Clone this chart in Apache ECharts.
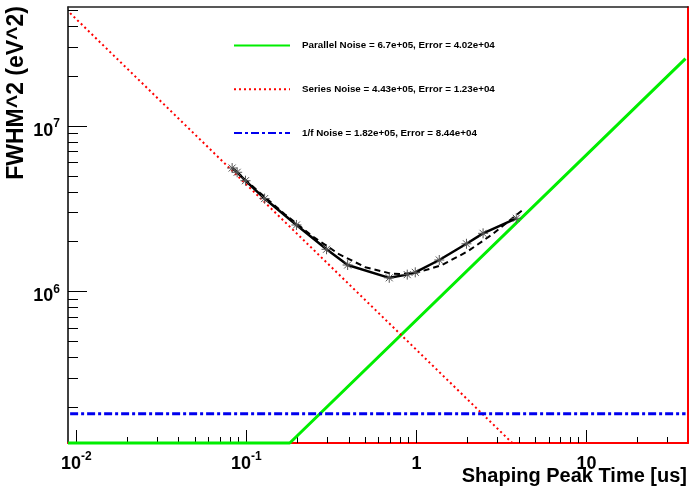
<!DOCTYPE html>
<html><head><meta charset="utf-8">
<script src="https://cdn.jsdelivr.net/npm/echarts@6.0.0/dist/echarts.min.js"></script>
<style>html,body{margin:0;padding:0;background:#fff}#c{width:690px;height:489px}</style>
</head><body><div id="c"></div>
<script>
// ---- data ----
const shapingTime = [0.0825, 0.0883, 0.0988, 0.128, 0.197, 0.296, 0.394, 0.692, 0.883, 0.984, 1.362, 1.968, 2.465, 3.865];
const fwhm2 = [5.57e6, 5.25e6, 4.67e6, 3.64e6, 2.52e6, 1.796e6, 1.443e6, 1.207e6, 1.262e6, 1.303e6, 1.547e6, 1.939e6, 2.243e6, 2.765e6];

const totalFitTime = [0.088, 0.09, 0.12, 0.17, 0.25, 0.35, 0.5, 0.7, 0.8, 1.0, 1.4, 2.0, 2.8, 4.2];
const totalFitVal = [5.27e6, 5.16e6, 3.95e6, 2.90e6, 2.12e6, 1.68e6, 1.40e6, 1.284e6, 1.272e6, 1.295e6, 1.436e6, 1.744e6, 2.216e6, 3.10e6];

const parallelTime = [0.00894, 0.18, 38.2];
const parallelVal = [1.209e5, 1.209e5, 2.56e7];
const seriesNoiseTime = [0.0092, 3.66, 39.3];
const seriesNoiseVal = [4.82e7, 1.209e5, 1.209e5];
const oneOverFTime = [0.0092, 38.2];
const oneOverFVal = [1.82e5, 1.82e5];

const noiseNames = ['Parallel Noise', 'Series Noise', '1/f Noise'];
const noiseValues = ['6.7e+05', '4.43e+05', '1.82e+05'];
const noiseErrors = ['4.02e+04', '1.23e+04', '8.44e+04'];

const xMajorTicks = [0.01, 0.1, 1, 10];
const xMinorTicks = [0.02,0.03,0.04,0.05,0.06,0.07,0.08,0.09, 0.2,0.3,0.4,0.5,0.6,0.7,0.8,0.9, 2,3,4,5,6,7,8,9, 20,30];
const yMajorTicks = [1e6, 1e7];
const yMinorTicks = [2e5,3e5,4e5,5e5,6e5,7e5,8e5,9e5, 2e6,3e6,4e6,5e6,6e6,7e6,8e6,9e6, 2e7,3e7,4e7,5e7];

const X_MIN = 0.00894, X_MAX = 39.5;
const Y_MIN = 1.209e5, Y_MAX = 5.25e7;

const xTitle = 'Shaping Peak Time [us]';
const yTitle = 'FWHM^2 (eV^2)';

// ---- build ----
const zip = (a, b) => a.map((v, i) => [v, b[i]]);
const legendNames = noiseNames.map((n, i) => n + ' = ' + noiseValues[i] + ', Error = ' + noiseErrors[i]);
const FONT = '"Liberation Sans", Arial, Helvetica, sans-serif';

function powLabel(v) {
  const e = Math.round(Math.log10(v));
  if (e === 0) return '{b|1}';
  if (e === 1) return '{b|10}';
  return '{b|10}{s|' + e + '}';
}
const rich = {
  b: { fontFamily: FONT, fontWeight: 'bold', fontSize: 18, lineHeight: 22, verticalAlign: 'bottom', color: '#000' },
  s: { fontFamily: FONT, fontWeight: 'bold', fontSize: 12, lineHeight: 12, verticalAlign: 'top', color: '#000' }
};
const noSplit = { show: false };

const chart = echarts.init(document.getElementById('c'), null, { renderer: 'canvas' });
chart.setOption({
  animation: false,
  backgroundColor: '#fff',
  grid: { left: 68, right: 2, top: 7, bottom: 46, containLabel: false, outerBoundsMode: 'none' },
  legend: {
    left: 228, top: 35, orient: 'vertical', itemWidth: 56, itemHeight: 14, itemGap: 32.5,
    selectedMode: false,
    itemStyle: { color: 'rgba(0,0,0,0)', opacity: 0, borderWidth: 0 },
    textStyle: { fontFamily: FONT, fontWeight: 'bold', fontSize: 9.8, color: '#000', padding: [0, 0, 0, 7] },
    data: legendNames
  },
  xAxis: [
    { type: 'log', min: X_MIN, max: X_MAX, position: 'bottom',
      axisLine: { show: true, lineStyle: { color: '#ff0000', width: 2 } },
      axisTick: { show: true, inside: true, length: 13, customValues: xMajorTicks, lineStyle: { color: '#000', width: 1 } },
      axisLabel: { show: true, customValues: xMajorTicks, formatter: powLabel, rich: rich, margin: 8 },
      splitLine: noSplit, minorTick: { show: false } },
    { type: 'log', min: X_MIN, max: X_MAX, position: 'bottom',
      axisLine: { show: false },
      axisTick: { show: true, inside: true, length: 6, customValues: xMinorTicks, lineStyle: { color: '#000', width: 1 } },
      axisLabel: { show: false }, splitLine: noSplit },
    { type: 'log', min: X_MIN, max: X_MAX, position: 'top',
      axisLine: { show: true, lineStyle: { color: '#222', width: 1.5 } },
      axisTick: { show: false }, axisLabel: { show: false }, splitLine: noSplit }
  ],
  yAxis: [
    { type: 'log', min: Y_MIN, max: Y_MAX, position: 'left',
      axisLine: { show: true, lineStyle: { color: '#000', width: 1.5 } },
      axisTick: { show: true, inside: true, length: 19, customValues: yMajorTicks, lineStyle: { color: '#000', width: 1 } },
      axisLabel: { show: true, customValues: yMajorTicks, formatter: powLabel, rich: rich, margin: 8, padding: [6, 0, 0, 0] },
      splitLine: noSplit },
    { type: 'log', min: Y_MIN, max: Y_MAX, position: 'left',
      axisLine: { show: false },
      axisTick: { show: true, inside: true, length: 10, customValues: yMinorTicks, lineStyle: { color: '#000', width: 1 } },
      axisLabel: { show: false }, splitLine: noSplit },
    { type: 'log', min: Y_MIN, max: Y_MAX, position: 'right',
      axisLine: { show: true, lineStyle: { color: '#ff0000', width: 2 } },
      axisTick: { show: false }, axisLabel: { show: false }, splitLine: noSplit }
  ],
  graphic: [
    { type: 'text', x: 687, y: 476, style: { text: xTitle, font: 'bold 20px ' + FONT, textAlign: 'right', textVerticalAlign: 'middle', fill: '#000' } },
    { type: 'text', x: 17, y: 6, rotation: Math.PI / 2, style: { text: yTitle, font: 'bold 23px ' + FONT, textAlign: 'right', textVerticalAlign: 'middle', fill: '#000' } }
  ],
  series: [
    { name: legendNames[0], type: 'line', data: zip(parallelTime, parallelVal), symbol: 'none', clip: false,
      lineStyle: { color: '#00ee00', width: 3 }, itemStyle: { color: '#00ee00' }, z: 3 },
    { name: legendNames[1], type: 'line', data: zip(seriesNoiseTime, seriesNoiseVal), symbol: 'none', clip: false,
      lineStyle: { color: '#ff0000', width: 2, type: [2, 3] }, itemStyle: { color: '#ff0000' }, z: 3 },
    { name: legendNames[2], type: 'line', data: zip(oneOverFTime, oneOverFVal), symbol: 'none', clip: false,
      lineStyle: { color: '#0000ee', width: 3, type: [8, 3, 3, 3] }, itemStyle: { color: '#0000ee' }, z: 3 },
    { name: 'Total fit', type: 'line', data: zip(totalFitTime, totalFitVal), symbol: 'none', smooth: false,
      lineStyle: { color: '#000', width: 2, type: [6, 4] }, z: 4 },
    { name: 'Data', type: 'line', data: zip(shapingTime, fwhm2),
      symbol: 'path://M0,5L10,5M5,0L5,10M1.5,1.5L8.5,8.5M1.5,8.5L8.5,1.5', symbolSize: 10,
      itemStyle: { color: 'rgba(0,0,0,0)', borderColor: '#555', borderWidth: 1 },
      lineStyle: { color: '#000', width: 2.5 }, z: 5 }
  ]
});
</script>
</body></html>
